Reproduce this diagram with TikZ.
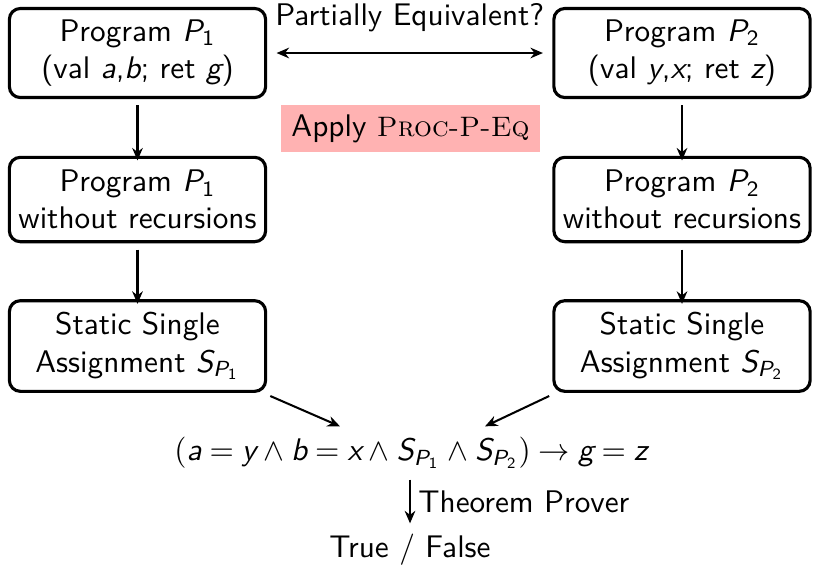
\documentclass[tikz,border=0pt]{standalone}
\usepackage{amsmath}
\usetikzlibrary{arrows.meta}
\renewcommand{\familydefault}{\sfdefault}
% sans-serif italic letters and upright sans digits for formulas
\newcommand{\mv}[1]{\textit{#1}}
\newcommand{\md}[1]{\textup{#1}}
\begin{document}
\begin{tikzpicture}[x=0.32pt,y=-0.32pt,
  font=\sffamily,
  prog/.style={draw, line width=1pt, rounded corners=3.5pt, align=center,
    minimum width=82pt, inner sep=2pt},
  flow/.style={-{Stealth[length=4pt,width=3.4pt]}, line width=0.65pt},
  tag/.style={fill=red!30, inner xsep=3.5pt, inner ysep=3pt, minimum height=14.4pt}]
\useasboundingbox (0,0) rectangle (815,567);

% the two original programs
\node[prog, minimum height=28.5pt] (p1) at (137.5,53) {Program $\mv{P}_{\md{1}}$\\(val $\mv{a}$,$\mv{b}$; ret $\mv{g}$)};
\node[prog, minimum height=28.5pt] (p2) at (682,53) {Program $\mv{P}_{\md{2}}$\\(val $\mv{y}$,$\mv{x}$; ret $\mv{z}$)};

% after removing recursion
\node[prog, minimum height=27pt] (r1) at (137.5,199.5) {Program $\mv{P}_{\md{1}}$\\without recursions};
\node[prog, minimum height=27pt] (r2) at (682,199.5) {Program $\mv{P}_{\md{2}}$\\without recursions};

% SSA forms
\node[prog, minimum height=29pt] (s1) at (137.5,346) {Static Single\\Assignment $\mv{S}_{\mv{P}_{\md{1}}}$};
\node[prog, minimum height=29pt] (s2) at (682,346) {Static Single\\Assignment $\mv{S}_{\mv{P}_{\md{2}}}$};

% verification condition and result
\node (vc) at (411,453) {\thickmuskip=4.6mu\medmuskip=4mu
  $(\mv{a} = \mv{y} \wedge \mv{b} = \mv{x} \wedge \mv{S}_{\mv{P}_{\md{1}}} \wedge \mv{S}_{\mv{P}_{\md{2}}}) \rightarrow \mv{g} = \mv{z}$};
\node (res) at (410,550) {True / False};

\node[tag] (rule) at (410.5,128.5) {Apply {\fontsize{9}{11}\selectfont\textrm{\textsc{Proc-P-Eq}}}};

\draw[flow, {Stealth[length=4pt,width=3.4pt]}-{Stealth[length=4pt,width=3.4pt]}]
  ([xshift=3pt]p1.east) -- node[above=3pt] {Partially Equivalent?} ([xshift=-3pt]p2.east -| p2.west);
\draw[flow] ([yshift=-2pt]p1.south) -- ([yshift=-1.5pt]r1.north);
\draw[flow] ([yshift=-2pt]p2.south) -- ([yshift=-1.5pt]r2.north);
\draw[flow] ([yshift=-2pt]r1.south) -- ([yshift=-1.5pt]s1.north);
\draw[flow] ([yshift=-2pt]r2.south) -- ([yshift=-1.5pt]s2.north);
\draw[flow] ([shift={(1pt,-1pt)}]s1.south east) -- (vc.north -| 340,0);
\draw[flow] ([shift={(-1pt,-1pt)}]s2.south west) -- (vc.north -| 485,0);
\draw[flow] (vc.south -| res.north) -- node[right=-1pt] {Theorem Prover} (res.north);
\end{tikzpicture}
\end{document}
